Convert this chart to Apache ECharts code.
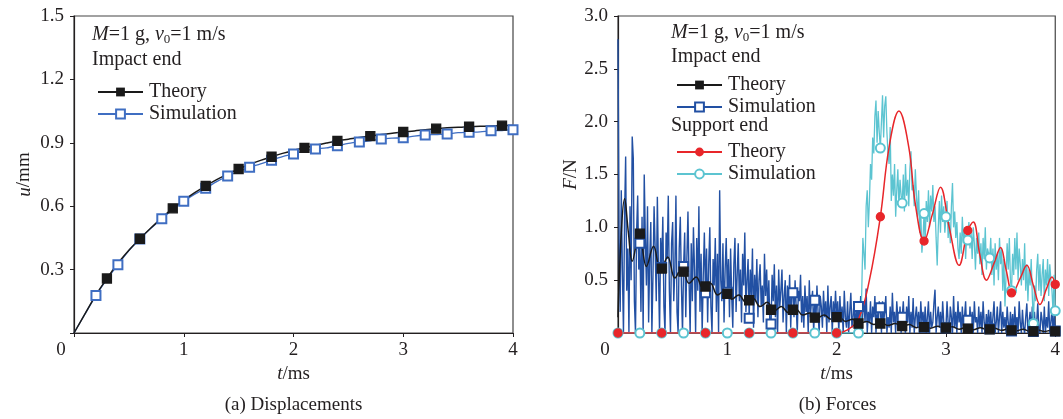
<!DOCTYPE html>
<html><head><meta charset="utf-8">
<script src="https://cdn.jsdelivr.net/npm/echarts@6/dist/echarts.min.js"></script>
<style>html,body{margin:0;padding:0;background:#fff}#c{width:1063px;height:419px}</style>
</head><body><div id="c"></div>
<script>
const FONT = 'Liberation Serif';
const INK = '#231f20';

// ---------- (a) Displacements : u (mm) vs t (ms), t step 0.1 ----------
const dispStep = 0.1;
const dispTheory = [0,0.09,0.18,0.258,0.33,0.392,0.446,0.497,0.545,0.59,
  0.628,0.664,0.696,0.726,0.752,0.776,0.798,0.817,0.834,0.85,
  0.864,0.876,0.888,0.899,0.909,0.917,0.925,0.932,0.939,0.945,
  0.951,0.956,0.962,0.967,0.971,0.974,0.976,0.978,0.98,0.981,0.982];
const dispSim = [0,0.09,0.177,0.255,0.323,0.39,0.445,0.495,0.541,0.585,
  0.623,0.657,0.685,0.716,0.743,0.765,0.784,0.80,0.818,0.835,
  0.847,0.862,0.871,0.876,0.886,0.897,0.904,0.909,0.918,0.922,
  0.924,0.932,0.937,0.939,0.942,0.948,0.950,0.952,0.957,0.958,0.962];

// ---------- (b) Forces : F (N) vs t (ms) ----------
// impact end, theory (curve through its peaks and troughs)
const impactTheoryT = [0,0.03,0.06,0.095,0.13,0.195,0.26,0.325,0.39,0.455,0.52,0.585,0.65,0.715,0.78,0.845,0.91,0.975,
  1.04,1.105,1.17,1.235,1.30,1.365,1.43,1.495,1.56,1.625,1.69,1.755,1.82,1.885,1.95,2.015,2.08,2.145,2.21,2.275,2.34,
  2.405,2.47,2.535,2.6,2.665,2.73,2.795,2.86,2.925,2.99,3.055,3.12,3.185,3.25,3.315,3.38,3.445,3.51,3.575,3.64,3.705,
  3.77,3.835,3.9,3.965,4.0];
const impactTheoryF = [0.15,0.95,1.27,0.95,0.68,0.95,0.63,0.82,0.59,0.72,0.52,0.62,0.47,0.53,
  0.42,0.47,0.36,0.40,0.32,0.36,0.29,0.33,0.25,0.29,0.21,0.25,0.19,0.23,0.17,0.19,0.14,0.17,0.13,0.16,
  0.11,0.13,0.09,0.11,0.08,0.10,0.07,0.09,0.06,0.08,0.05,0.07,0.045,0.065,0.04,0.06,0.035,0.055,0.03,0.05,
  0.03,0.045,0.025,0.04,0.02,0.035,0.015,0.03,0.015,0.025,0.02];
const impactTheoryMarkT = [0.2,0.4,0.6,0.8,1.0,1.2,1.4,1.6,1.8,2.0,2.2,2.4,2.6,2.8,3.0,3.2,3.4,3.6,3.8,4.0];
const impactTheoryMarkF = [0.94,0.61,0.58,0.44,0.37,0.31,0.22,0.22,0.145,0.15,0.09,0.09,0.065,0.055,0.05,0.04,0.035,0.025,0.015,0.015];

// support end, theory
const supportTheoryT = [0,1.95,2.0,2.1,2.2,2.3,2.4,2.48,2.57,2.66,2.72,2.8,2.875,2.95,3.03,3.12,3.2,3.25,3.31,3.37,
  3.44,3.5,3.55,3.61,3.68,3.74,3.8,3.86,3.92,3.97,4.0];
const supportTheoryF = [0,0,0,0.03,0.13,0.5,1.10,1.76,2.10,1.76,1.22,0.87,1.12,1.38,1.0,0.64,0.97,1.05,0.74,0.5,
  0.66,0.81,0.6,0.38,0.52,0.64,0.45,0.27,0.42,0.53,0.46];
const supportTheoryMarkT = [0,0.4,0.8,1.2,1.6,2.0,2.4,2.8,3.2,3.6,4.0];
const supportTheoryMarkF = [0,0,0,0,0,0,1.10,0.87,0.97,0.38,0.46];

// simulations, t step 0.01 (one row = 0.1 ms)
const simStep = 0.01;
const impactSim = [
  2.78,0.9,0.2,1.35,0.6,0.0,1.1,1.67,0.4,0.8,
  0.0,1.2,0.5,1.86,1.65,0.3,0.0,0.95,1.3,0.6,
  0.85,0.2,1.1,0.0,1.5,0.9,0.45,1.2,0.1,0.7,
  1.05,0.0,0.55,1.2,0.8,0.3,1.29,0.6,0.0,0.9,
  0.62,1.1,0.25,0.0,0.95,0.7,1.3,0.4,0.0,0.85,
  1.05,0.3,0.6,1.3,0.2,0.0,0.8,1.1,0.45,0.0,
  0.63,0.95,0.15,0.7,1.15,0.5,0.0,0.85,0.3,1.0,
  0.6,0.0,0.9,0.4,1.2,0.2,0.75,0.0,0.55,0.95,
  0.38,0.8,0.1,0.65,1.0,0.25,0.0,0.7,0.45,0.9,
  0.2,0.75,0.0,1.35,0.5,0.3,0.85,0.1,0.6,0.9,
  0.385,0.7,0.15,0.8,0.35,0.05,0.65,0.9,0.2,0.55,
  0.85,0.3,0.6,0.1,0.75,0.45,0.95,0.2,0.5,0.7,
  0.14,0.6,0.35,0.8,0.05,0.55,0.3,0.7,0.15,0.5,
  0.65,0.25,0.45,0.1,0.75,0.35,0.6,0.2,0.5,0.05,
  0.085,0.55,0.3,0.65,0.15,0.45,0.0,0.6,0.25,0.4,
  0.6,0.1,0.35,0.5,0.0,0.45,0.2,0.55,0.05,0.4,
  0.38,0.15,0.5,0.25,0.0,0.4,0.3,0.55,0.1,0.35,
  0.05,0.45,0.2,0.35,0.0,0.5,0.15,0.3,0.4,0.0,
  0.31,0.1,0.45,0.2,0.0,0.35,0.25,0.05,0.4,0.15,
  0.3,0.0,0.45,0.1,0.25,0.35,0.0,0.3,0.15,0.4,
  0.16,0.3,0.0,0.35,0.1,0.25,0.0,0.4,0.15,0.05,
  0.3,0.0,0.2,0.38,0.05,0.15,0.3,0.0,0.25,0.1,
  0.25,0.05,0.35,0.0,0.2,0.3,0.1,0.42,0.0,0.2,
  0.1,0.3,0.0,0.25,0.15,0.35,0.0,0.2,0.05,0.3,
  0.24,0.0,0.3,0.1,0.2,0.35,0.0,0.15,0.05,0.25,
  0.0,0.38,0.1,0.2,0.0,0.3,0.15,0.05,0.25,0.0,
  0.15,0.3,0.05,0.0,0.25,0.1,0.35,0.0,0.2,0.05,
  0.33,0.0,0.15,0.25,0.05,0.2,0.0,0.3,0.1,0.2,
  0.055,0.25,0.0,0.15,0.3,0.0,0.2,0.05,0.1,0.28,
  0.41,0.0,0.15,0.25,0.05,0.2,0.0,0.3,0.1,0.0,
  0.05,0.3,0.1,0.0,0.25,0.15,0.0,0.35,0.05,0.2,
  0.0,0.3,0.1,0.2,0.0,0.25,0.05,0.15,0.3,0.0,
  0.12,0.0,0.25,0.05,0.2,0.0,0.3,0.1,0.15,0.0,
  0.25,0.05,0.2,0.0,0.3,0.1,0.0,0.18,0.05,0.22,
  0.04,0.2,0.0,0.15,0.3,0.0,0.1,0.25,0.0,0.15,
  0.3,0.0,0.2,0.05,0.15,0.0,0.25,0.1,0.0,0.2,
  0.02,0.18,0.0,0.25,0.05,0.15,0.0,0.3,0.1,0.0,
  0.22,0.05,0.0,0.15,0.28,0.0,0.1,0.2,0.0,0.25,
  0.015,0.2,0.0,0.1,0.28,0.05,0.0,0.2,0.12,0.0,
  0.25,0.0,0.15,0.05,0.3,0.0,0.1,0.22,0.0,0.2,
  0.02];
const supportSim = [
  0,0,0,0,0,0,0,0,0,0, 0,0,0,0,0,0,0,0,0,0, 0,0,0,0,0,0,0,0,0,0, 0,0,0,0,0,0,0,0,0,0,
  0,0,0,0,0,0,0,0,0,0, 0,0,0,0,0,0,0,0,0,0, 0,0,0,0,0,0,0,0,0,0, 0,0,0,0,0,0,0,0,0,0,
  0,0,0,0,0,0,0,0,0,0, 0,0,0,0,0,0,0,0,0,0, 0,0,0,0,0,0,0,0,0,0, 0,0,0,0,0,0,0,0,0,0,
  0,0,0,0,0,0,0,0,0,0, 0,0,0,0,0,0,0,0,0,0, 0,0,0,0,0,0,0,0,0,0, 0,0,0,0,0,0,0,0,0,0,
  0,0,0,0,0,0,0,0,0,0, 0,0,0,0,0,0,0,0,0,0, 0,0,0,0,0,0,0,0,0,0, 0,0,0,0,0,0,0,0,0,0,
  0,0,0,0,0,0,0,0,0,0, 0,0,0,0,0,0,0,0,0,0,
  0,0,0,0.4,0.9,0.75,0.6,1.2,1.35,1.0,
  1.25,1.6,1.45,1.85,1.7,2.05,2.2,1.8,2.1,1.9,
  1.75,2.0,2.25,1.85,2.15,2.24,1.9,1.7,1.6,1.95,
  1.25,1.5,1.3,1.6,1.1,1.35,1.55,1.2,1.45,1.3,
  1.23,1.5,1.15,1.6,1.3,1.45,1.2,1.55,1.72,1.35,
  1.4,1.2,1.55,1.3,1.1,1.35,0.95,1.15,0.76,0.9,
  1.13,0.85,1.25,1.05,1.35,1.0,1.3,1.15,1.4,1.05,
  1.2,0.9,0.64,1.0,1.25,0.95,1.3,1.05,1.2,0.95,
  1.10,1.25,0.9,1.05,0.85,1.2,1.42,1.0,1.15,0.9,
  1.05,0.8,0.7,0.95,0.75,1.1,0.85,1.0,0.7,0.95,
  0.88,1.05,0.8,0.95,0.7,1.0,0.85,0.6,0.9,0.75,
  0.95,0.65,0.85,0.55,0.9,0.7,1.0,0.6,0.8,0.75,
  0.71,0.9,0.55,0.8,0.45,0.85,0.6,0.75,0.5,0.9,
  0.65,0.8,0.4,0.7,0.25,0.55,0.85,0.6,0.9,0.5,
  0.4,0.75,0.55,0.9,0.6,0.95,0.5,0.8,0.65,0.45,
  0.7,0.5,0.85,0.4,0.65,0.3,0.6,0.45,0.7,0.35,
  0.09,0.45,0.3,0.6,0.75,0.4,0.65,0.35,0.55,0.7,
  0.3,0.6,0.45,0.7,0.35,0.65,0.5,0.4,0.2,0.55,
  0.21];

// ---------- helpers ----------
const r = v => Math.round(v * 1000) / 1000;
const pairs = (step, ys) => ys.map((y, i) => [r(i * step), y]);
const zip = (xs, ys) => xs.map((x, i) => [x, ys[i]]);
const every = (arr, n, skipFirst) => arr.filter((p, i) => i % n === 0 && !(skipFirst && i === 0));

const C_BLACK = '#1a1a1a', C_BLUE_A = '#3f6ec2', C_BLUE_B = '#2250a3', C_RED = '#e8262a', C_CYAN = '#5cc4d1';

const dTh = pairs(dispStep, dispTheory), dSim = pairs(dispStep, dispSim);
const fImp = pairs(simStep, impactSim), fSup = pairs(simStep, supportSim);

const baseText = {fontFamily: FONT, fontSize: 19, color: INK};
function xAxis(gi) {
  return {type: 'value', gridIndex: gi, min: 0, max: 4, interval: 1,
    name: '{i|t}/ms', nameLocation: 'middle', nameGap: 28,
    nameTextStyle: Object.assign({}, baseText, {rich: {i: Object.assign({}, baseText, {fontStyle: 'italic'})}}),
    axisLine: {lineStyle: {color: INK, width: 1.2}},
    axisTick: {show: true, length: 4, lineStyle: {color: INK}},
    splitLine: {show: false},
    axisLabel: Object.assign({}, baseText, {margin: 8,
      formatter: v => v === 0 ? '{z|0}' : String(v),
      rich: {z: Object.assign({}, baseText, {padding: [0, 26, 0, 0]})}})};
}
function yAxis(gi, max, interval, name, gap) {
  return {type: 'value', gridIndex: gi, min: 0, max: max, interval: interval,
    name: name, nameLocation: 'middle', nameGap: gap,
    nameTextStyle: Object.assign({}, baseText, {rich: {i: Object.assign({}, baseText, {fontStyle: 'italic'})}}),
    axisLine: {show: true, lineStyle: {color: INK, width: 1.2}},
    axisTick: {show: true, length: 4, lineStyle: {color: INK}},
    splitLine: {show: false},
    axisLabel: Object.assign({}, baseText, {margin: 10, formatter: v => v === 0 ? '' : v.toFixed(1)})};
}
function lineS(name, gi, data, color, width, symbol, smooth) {
  return {name: name, type: 'line', xAxisIndex: gi, yAxisIndex: gi, data: data,
    showSymbol: false, symbol: symbol, symbolSize: 9, smooth: smooth || false,
    lineStyle: {color: color, width: width}, itemStyle: {color: color}, emphasis: {disabled: true}};
}
function markS(name, gi, data, color, symbol, size) {
  return {name: name, type: 'scatter', xAxisIndex: gi, yAxisIndex: gi, data: data,
    symbol: symbol, symbolSize: size,
    itemStyle: {color: color, borderColor: color, borderWidth: 1.3, opacity: 1},
    emphasis: {disabled: true}, z: 4};
}
function legend(left, top, names) {
  return {show: true, orient: 'vertical', left: left, top: top, itemWidth: 45, itemHeight: 11, itemGap: 2,
    selectedMode: false, data: names, formatter: n => n.split('|')[1],
    textStyle: {fontFamily: FONT, fontSize: 20, color: INK, padding: [0, 0, 0, 1]}};
}
const rich0 = {
  i: {fontFamily: FONT, fontSize: 20, fontStyle: 'italic', fill: INK},
  s: {fontFamily: FONT, fontSize: 13, fill: INK, padding: [9, 0, 0, 0]}
};
function txt(x, y, text, align, size) {
  return {type: 'text', x: x, y: y, silent: true,
    style: {text: text, fontFamily: FONT, fontSize: size || 20, fill: INK, align: align || 'left',
      verticalAlign: 'middle', rich: rich0}};
}

const option = {
  animation: false,
  backgroundColor: '#fff',
  grid: [
    {left: 74, top: 16, right: 550, bottom: 86, show: true, borderColor: '#444', borderWidth: 1.2, containLabel: false},
    {left: 618, top: 16, right: 6, bottom: 86, show: true, borderColor: '#444', borderWidth: 1.2, containLabel: false}
  ],
  xAxis: [xAxis(0), xAxis(1)],
  yAxis: [yAxis(0, 1.5, 0.3, '{i|u}/mm', 40), yAxis(1, 3.0, 0.5, '{i|F}/N', 36)],
  legend: [
    legend(92, 77, ['a|Theory', 'a|Simulation']),
    legend(671, 70, ['b1|Theory', 'b1|Simulation']),
    legend(671, 137, ['b2|Theory', 'b2|Simulation'])
  ],
  graphic: [
    txt(92, 35, '{i|M}=1 g, {i|v}{s|0}=1 m/s'),
    txt(92, 60, 'Impact end'),
    txt(671, 33, '{i|M}=1 g, {i|v}{s|0}=1 m/s'),
    txt(671, 57, 'Impact end'),
    txt(671, 126, 'Support end'),
    txt(293.5, 405, '(a) Displacements', 'center', 19),
    txt(837.5, 405, '(b) Forces', 'center', 19)
  ],
  series: [
    // (a)
    lineS('a|Simulation', 0, dSim, C_BLUE_A, 1.3, 'emptyRect', 0.3),
    lineS('a|Theory', 0, dTh, C_BLACK, 1.5, 'rect', 0.4),
    markS('a|simMarks', 0, every(dSim, 2, true), C_BLUE_A, 'emptyRect', 9),
    markS('a|thMarks', 0, every(dTh, 3, true), C_BLACK, 'rect', 9),
    // (b)
    lineS('b1|Simulation', 1, fImp, C_BLUE_B, 1.4, 'emptyRect'),
    lineS('b2|Simulation', 1, fSup, C_CYAN, 1.3, 'emptyCircle'),
    lineS('b1|Theory', 1, zip(impactTheoryT, impactTheoryF), C_BLACK, 1.5, 'rect', 0.4),
    lineS('b2|Theory', 1, zip(supportTheoryT, supportTheoryF), C_RED, 1.5, 'circle', 0.4),
    markS('b2|simMarks', 1, every(fSup, 20, false), C_CYAN, 'emptyCircle', 9),
    markS('b1|simMarks', 1, every(fImp, 20, true), C_BLUE_B, 'emptyRect', 9),
    markS('b1|thMarks', 1, zip(impactTheoryMarkT, impactTheoryMarkF), C_BLACK, 'rect', 9),
    markS('b2|thMarks', 1, zip(supportTheoryMarkT, supportTheoryMarkF), C_RED, 'circle', 8)
  ]
};
const chart = echarts.init(document.getElementById('c'), null, {renderer: 'canvas'});
chart.setOption(option);
</script>
</body></html>
